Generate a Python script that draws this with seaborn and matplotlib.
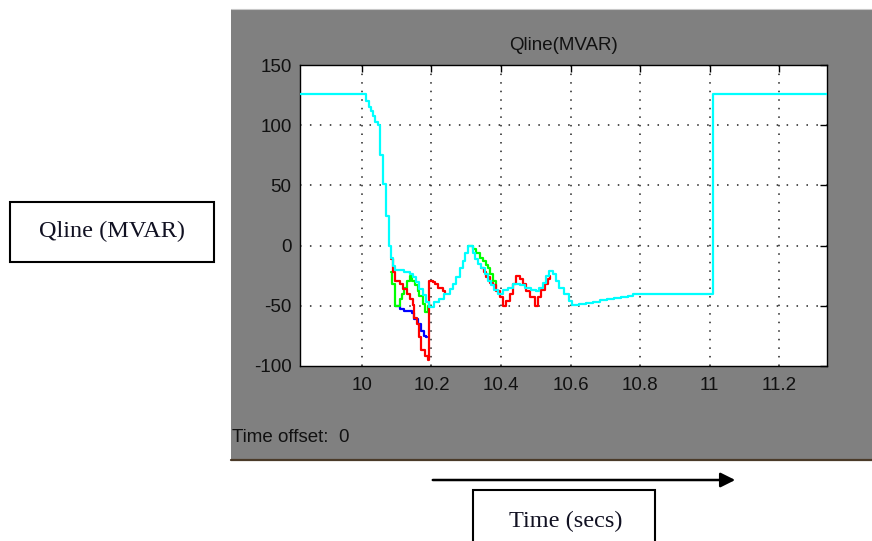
import numpy as np
import pandas as pd
import seaborn as sns
import matplotlib
matplotlib.use("Agg")
import matplotlib.pyplot as plt
from matplotlib.patches import Rectangle, FancyArrowPatch
from matplotlib.lines import Line2D

# ---- scope traces: sample times (s) and reactive power (MVAR), held between samples ----
cyan_t = [9.82, 10.012, 10.019, 10.026, 10.031, 10.039, 10.045, 10.053, 10.060, 10.070,
          10.077, 10.084, 10.089, 10.094, 10.122, 10.137, 10.146, 10.156, 10.165, 10.175,
          10.185, 10.194, 10.208, 10.223, 10.237, 10.252, 10.261, 10.271, 10.281, 10.290,
          10.295, 10.305, 10.319, 10.324, 10.334, 10.343, 10.353, 10.362, 10.372, 10.381,
          10.391, 10.405, 10.420, 10.435, 10.455, 10.470, 10.485, 10.500, 10.510, 10.520,
          10.530, 10.538, 10.548, 10.558, 10.567, 10.582, 10.596, 10.605, 10.625, 10.645,
          10.665, 10.685, 10.705, 10.725, 10.745, 10.765, 10.780, 11.0095, 11.34]
cyan_q = [126, 120, 115, 112, 108, 103, 100, 75, 51, 25,
          0, -10, -17, -20, -22, -24, -26, -30, -36, -41,
          -47, -51, -47, -44, -40, -36, -32, -26, -19, -12.5,
          -6, 0, -6, -11, -15, -19, -24, -29, -33, -37,
          -40, -37, -35, -32, -33, -35, -37, -38, -35, -31,
          -25, -21, -24, -29, -35, -40, -46, -49.5, -48.5, -47.5,
          -46.5, -45.5, -44.5, -43.5, -42.5, -41.5, -40.5, 126, 126]

red_t = [10.084, 10.089, 10.096, 10.110, 10.119, 10.129, 10.137, 10.147, 10.150, 10.157,
         10.164, 10.171, 10.180, 10.189, 10.194, 10.203, 10.210, 10.218, 10.232, 10.240,
         10.343, 10.350, 10.358, 10.367, 10.377, 10.386, 10.396, 10.405, 10.415, 10.425,
         10.434, 10.444, 10.454, 10.463, 10.473, 10.482, 10.497, 10.506, 10.516, 10.525,
         10.535, 10.540]
red_q = [-11, -22, -29, -32, -36, -40, -44, -49, -60, -65,
         -76, -87, -92, -95, -29, -30.5, -32, -35, -37.5, -40,
         -19, -22, -26, -31, -33, -37.5, -43, -50, -46, -40,
         -32, -25, -28, -32, -37.5, -43, -50, -43, -37, -32,
         -28, -25]
red_seg = [0] * 20 + [1] * 22

green_t = [10.085, 10.086, 10.095, 10.110, 10.116, 10.122, 10.129, 10.137, 10.145, 10.152,
           10.160, 10.164, 10.175, 10.180, 10.191, 10.195,
           10.305, 10.319, 10.329, 10.339, 10.348, 10.358, 10.362, 10.367, 10.377, 10.386]
green_q = [-22, -32, -50, -44, -40, -35, -29, -25, -29, -33,
           -38, -42, -48.6, -55, -50, -50,
           0, -3, -6.5, -10, -13, -16, -19, -24, -29, -35]
green_seg = [0] * 16 + [1] * 10

blue_t = [10.095, 10.110, 10.122, 10.145, 10.150, 10.160, 10.169, 10.179, 10.184, 10.187]
blue_q = [-50, -52.8, -54, -55.6, -61, -65, -71, -75, -76, -76]

x_ticks = [10, 10.2, 10.4, 10.6, 10.8, 11, 11.2]
x_tick_labels = ["10", "10.2", "10.4", "10.6", "10.8", "11", "11.2"]
y_ticks = [-100, -50, 0, 50, 100, 150]
y_tick_labels = ["-100", "-50", "0", "50", "100", "150"]

sns.set_style("white")
plt.rcParams["font.family"] = ["Liberation Sans", "DejaVu Sans"]

W, H = 872, 541
fig = plt.figure(figsize=(W / 100, H / 100), dpi=100)
fig.patch.set_facecolor("white")


def fx(px):
    return px / W


def fy(py):
    return 1 - py / H


# grey scope window behind the axes
fig.add_artist(Rectangle((fx(231), fy(460)), fx(W) - fx(231), fy(9) - fy(460),
                         transform=fig.transFigure, facecolor="#808080",
                         edgecolor="none", zorder=0))
fig.add_artist(Line2D([fx(231), 1], [fy(460), fy(460)], transform=fig.transFigure,
                      color="#4a3a28", lw=1.6, zorder=1))
fig.add_artist(Line2D([fx(231), 1], [fy(8.5), fy(8.5)], transform=fig.transFigure,
                      color="#c8c8c8", lw=0.8, zorder=1))

ax = fig.add_axes([fx(300), fy(366), fx(827) - fx(300), fy(65) - fy(366)])
ax.set_facecolor("white")

series = [
    (pd.DataFrame({"t": blue_t, "q": blue_q, "seg": 0}), "#0000ff"),
    (pd.DataFrame({"t": green_t, "q": green_q, "seg": green_seg}), "#00ff00"),
    (pd.DataFrame({"t": red_t, "q": red_q, "seg": red_seg}), "#ff0000"),
    (pd.DataFrame({"t": cyan_t, "q": cyan_q, "seg": 0}), "#00ffff"),
]
for df, col in series:
    for _, part in df.groupby("seg"):
        sns.lineplot(data=part, x="t", y="q", ax=ax, color=col, lw=1.6,
                     estimator=None, sort=False, drawstyle="steps-post",
                     legend=False, zorder=3)

ax.set_xlim(9.822, 11.337)
ax.set_ylim(-100, 150)
ax.set_xticks(x_ticks)
ax.set_xticklabels(x_tick_labels)
ax.set_yticks(y_ticks)
ax.set_yticklabels(y_tick_labels)
ax.set_xlabel("")
ax.set_ylabel("")

ax.tick_params(direction="in", length=5, width=1, color="black", top=True, right=True,
               labelsize=13.5, labelcolor="#111111")
ax.tick_params(axis="x", pad=8)
ax.tick_params(axis="y", pad=6)
for s in ax.spines.values():
    s.set_visible(True)
    s.set_color("black")
    s.set_linewidth(1.0)

# dotted grid
for xv in x_ticks:
    ax.axvline(xv, color="#222222", lw=1.1, ls=(0, (1, 4.6)), zorder=1)
for yv in y_ticks[1:-1]:
    ax.axhline(yv, color="#222222", lw=1.1, ls=(0, (1, 5.5)), zorder=1)

ax.set_title("Qline(MVAR)", fontsize=13.5, color="#111111", pad=11)

fig.text(fx(232), fy(437), "Time offset:  0", fontsize=13.5, color="#111111",
         ha="left", va="center")

# annotation boxes outside the scope window
fig.add_artist(Rectangle((fx(10), fy(262)), fx(214) - fx(10), fy(202) - fy(262),
                         transform=fig.transFigure, facecolor="white",
                         edgecolor="black", lw=1.5, zorder=2))
fig.text(fx(112), fy(231), "Qline (MVAR)", fontsize=17.5, family=["Liberation Serif"],
         color="#111122", ha="center", va="center", zorder=3)

fig.add_artist(Rectangle((fx(473), fy(545)), fx(655) - fx(473), fy(490) - fy(545),
                         transform=fig.transFigure, facecolor="white",
                         edgecolor="black", lw=1.5, zorder=2))
fig.text(fx(566), fy(521), "Time (secs)", fontsize=17.5, family=["Liberation Serif"],
         color="#111122", ha="center", va="center", zorder=3)

fig.add_artist(FancyArrowPatch((fx(430), fy(480)), (fx(738), fy(480)),
                               transform=fig.transFigure, arrowstyle="-|>",
                               mutation_scale=22, lw=1.8, color="black", zorder=3))

fig.savefig("out.png", dpi=100)
